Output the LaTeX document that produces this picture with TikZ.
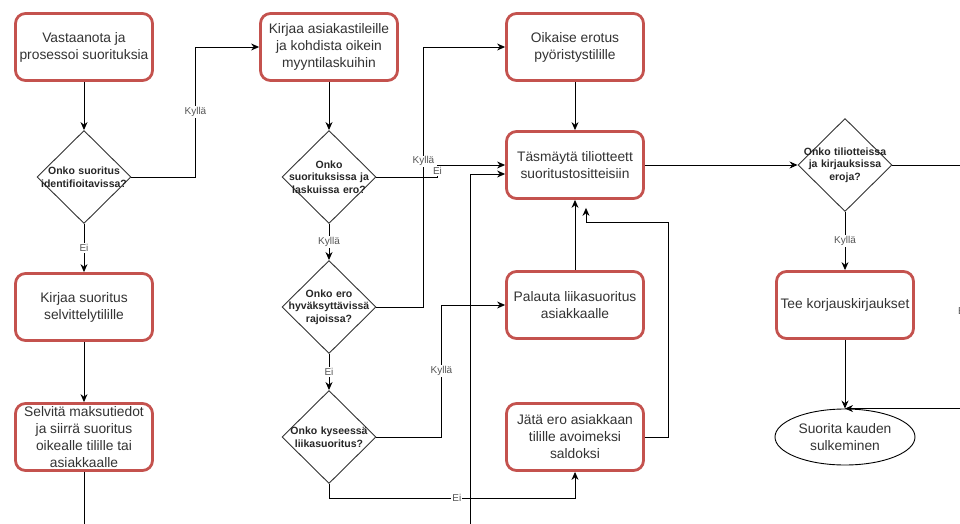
\documentclass[tikz,border=0pt]{standalone}
\usepackage{fontspec}
\setmainfont{Liberation Sans}
\usetikzlibrary{arrows.meta,positioning,shapes.geometric}
\definecolor{boxred}{RGB}{196,82,78}
\definecolor{txtgray}{RGB}{51,51,51}
\definecolor{lblgray}{RGB}{85,85,85}
\tikzstyle{task}=[draw=boxred,line width=2.8pt,rounded corners=10pt,fill=white,minimum width=137pt,minimum height=67pt,inner sep=2pt,align=center,text=txtgray,font=\fontsize{13.8}{17}\selectfont]
\tikzstyle{decision}=[draw=black!80,line width=0.9pt,diamond,aspect=1,minimum width=94pt,minimum height=93pt,inner sep=-12pt,text width=90pt,align=center,text=black!85,font=\fontsize{10.5}{12.5}\selectfont\bfseries]
\tikzstyle{closing}=[draw,ellipse,line width=0.9pt,minimum width=140pt,minimum height=56pt,inner sep=0pt,align=center,text=txtgray,font=\fontsize{13.8}{17}\selectfont]
\tikzstyle{answer}=[fill=white,inner sep=1pt,text=lblgray,font=\fontsize{10}{12}\selectfont]
\tikzstyle{flow}=[draw,line width=0.9pt,->,>={Stealth[length=8pt,width=7pt]}]

\begin{document}
\begin{tikzpicture}[x=1pt,y=-1pt,node distance=130pt]
  \useasboundingbox (0,0) rectangle (960,524);
  \clip (0,0) rectangle (960,524);
  \node[task]     (s1) at (84,47) {Vastaanota ja\\prosessoi suorituksia};
  \node[decision] (d1) [below of=s1] {Onko suoritus\\identifioitavissa?};
  \node[task]     (s2) [below of=d1] {Kirjaa suoritus\\selvittelytilille};
  \node[task]     (s3) [below of=s2] {Selvitä maksutiedot\\ja siirrä suoritus\\oikealle tilille tai\\asiakkaalle};
  \node[task]     (s4) [right of=s1,node distance=245pt] {Kirjaa asiakastileille\\ja kohdista oikein\\myyntilaskuihin};
  \node[decision] (d2) [below of=s4] {Onko\\suorituksissa ja\\laskuissa ero?};
  \node[decision] (d3) [below of=d2] {Onko ero\\hyväksyttävissä\\rajoissa?};
  \node[decision] (d4) [below of=d3] {Onko kyseessä\\liikasuoritus?};
  \node[task]     (s5) [right of=s4,node distance=246pt] {Oikaise erotus\\pyöristystilille};
  \node[task]     (s6) [below of=s5,node distance=118pt] {Täsmäytä tiliotteett\\suoritustositteisiin};
  \node[task]     (s7) [below of=s6,node distance=140pt] {Palauta liikasuoritus\\asiakkaalle};
  \node[task]     (s8) [right of=d4,node distance=246pt] {Jätä ero asiakkaan\\tilille avoimeksi\\saldoksi};
  \node[decision] (d5) [right of=s6,node distance=270pt] {Onko tiliotteissa\\ja kirjauksissa\\eroja?};
  \node[task]     (s9) [below of=d5,node distance=140pt] {Tee korjauskirjaukset};
  \node[closing]  (e1) [right of=s8,node distance=270pt] {Suorita kauden\\sulkeminen};

  \path[flow] (s1) edge (d1)
    (d1) edge node[answer] {Ei} (s2)
    (s2) edge (s3)
    (s4) edge (d2)
    (d2) edge node[answer] {Kyllä} (d3)
    (d3) edge node[answer] {Ei} (d4)
    (s5) edge (s6)
    (s7) edge (s6)
    (s6) edge (d5)
    (d5) edge node[answer] {Kyllä} (s9)
    (s9) edge (e1);

  % kulmikkaat yhteydet
  \draw[flow] (d1.east) -- ++(64,0) |- node[answer,pos=0.25] {Kyllä} (s4.west);
  \draw[flow] (d2.east) -- ++(61,0) |- node[answer,pos=0.25] {Ei} (s6.west);
  \draw[flow] (d3.east) -- ++(47,0) |- node[answer,pos=0.28] {Kyllä} (s5.west);
  \draw[flow] (d4.east) -- ++(65,0) |- node[answer,pos=0.25] {Kyllä} (s7.west);
  \draw[flow] (d4.south) -- ++(0,14) -| node[answer,pos=0.26] {Ei} (s8.south);
  \draw[flow] (s8.east) -- ++(24,0) |- ([xshift=11pt,yshift=-23pt]s6.south) -- ([xshift=11pt,yshift=-8pt]s6.south);
  \draw[flow] (s3.south) -- ++(0,73) -- ++(386,0) |- ([yshift=-9pt]s6.west);
  \draw[flow] (d5.east) -- ++(70,0) |- node[answer,pos=0.3] {Ei} (e1.north);
\end{tikzpicture}
\end{document}
